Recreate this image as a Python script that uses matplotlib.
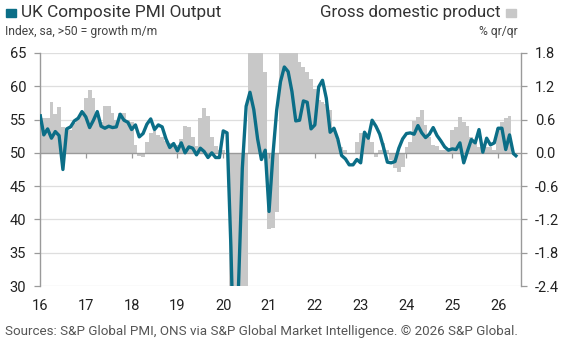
import matplotlib
matplotlib.use('Agg')
import matplotlib.pyplot as plt
import matplotlib.markers as mmarkers
from matplotlib.patches import Rectangle

# ---------------- data ----------------
start_year = 2016
year_labels = ['16', '17', '18', '19', '20', '21', '22', '23', '24', '25', '26']

# UK Composite PMI Output, monthly from Jan 2016
pmi = [
    55.8, 52.7, 53.6, 52.2, 53.2, 52.6, 47.5, 53.6, 53.9, 54.8, 55.2, 56.2,   # 2016
    55.4, 53.8, 54.9, 56.2, 54.0, 53.7, 54.0, 53.8, 53.9, 55.8, 54.9, 54.6,   # 2017
    53.5, 54.2, 52.4, 52.9, 54.3, 55.1, 53.5, 54.2, 53.9, 52.1, 50.8, 51.4,   # 2018
    50.3, 51.5, 50.0, 50.9, 50.7, 49.7, 50.7, 50.2, 49.3, 50.0, 49.3, 49.3,   # 2019
    53.3, 53.0, 36.0, 13.8, 30.0, 47.7, 57.0, 59.1, 56.5, 52.1, 49.0, 50.4,   # 2020
    41.2, 49.6, 56.4, 60.7, 62.9, 62.2, 59.2, 54.8, 54.9, 57.8, 57.6, 53.6,   # 2021
    54.2, 59.9, 60.9, 58.2, 53.1, 53.7, 52.1, 49.6, 49.1, 48.2, 48.2, 49.0,   # 2022
    48.5, 53.1, 52.2, 54.9, 54.0, 52.8, 50.8, 48.6, 48.5, 48.7, 50.7, 52.1,   # 2023
    52.9, 53.0, 52.8, 54.1, 53.0, 52.3, 52.8, 53.8, 52.6, 51.8, 50.9, 50.4,   # 2024
    50.6, 50.5, 51.5, 48.5, 50.3, 52.0, 51.5, 53.5, 50.1, 52.2, 51.2, 51.5,   # 2025
    53.7, 53.7, 50.5, 52.7, 49.9, 49.4,                                       # 2026
]

# Gross domestic product, % 3m/3m (qr/qr), monthly from Jan 2016
gdp = [
    0.70, 0.62, 0.62, 0.92, 0.70, 0.83, 0.47, 0.42, 0.42, 0.53, 0.62, 0.70,   # 2016
    0.98, 1.13, 0.98, 0.68, 0.56, 0.84, 0.84, 0.71, 0.60, 0.71, 0.71, 0.60,   # 2017
    0.55, 0.14, -0.05, -0.07, 0.20, 0.35, 0.40, 0.32, 0.28, 0.22, 0.18, 0.14, # 2018
    0.15, 0.25, 0.48, 0.47, 0.28, 0.12, 0.62, 0.80, 0.66, 0.29, 0.12, 0.05,   # 2019
    0.05, 0.00, -2.6, -10.0, -19.5, -19.8, -8.0, 8.0, 16.0, 15.0, 10.0, 1.45, # 2020
    -1.38, -1.36, -1.06, 3.5, 4.8, 5.5, 3.6, 2.4, 1.63, 1.55, 1.46, 1.33,     # 2021
    1.16, 0.95, 0.92, 0.88, 0.77, 0.44, 0.23, 0.11, 0.05, -0.02, 0.00, 0.20,  # 2022
    0.35, 0.35, 0.29, 0.20, -0.07, 0.05, 0.18, 0.05, -0.13, -0.28, -0.34, -0.25,  # 2023
    0.11, 0.20, 0.58, 0.65, 0.77, 0.50, 0.29, 0.14, 0.12, 0.05, 0.05, 0.08,   # 2024
    0.41, 0.47, 0.64, 0.56, 0.48, 0.29, 0.23, 0.11, 0.05, 0.10, 0.10, 0.05,   # 2025
    0.44, 0.55, 0.62, 0.66,                                                   # 2026
]

pmi_ticks = [30, 35, 40, 45, 50, 55, 60, 65]
gdp_ticks = [-2.4, -1.8, -1.2, -0.6, 0.0, 0.6, 1.2, 1.8]

# ---------------- style ----------------
TEAL = '#0b6e87'
BAR = '#c8c8c8'
GRID = '#dedede'
AXC = '#9a9a9a'
TXT = '#222222'
FONT = ['Roboto', 'DejaVu Sans']
plt.rcParams['font.family'] = FONT

pmi_x = [start_year + i / 12 for i in range(len(pmi))]
gdp_x = [start_year + i / 12 for i in range(len(gdp))]
years = [start_year + i for i in range(len(year_labels))]

fig = plt.figure(figsize=(5.67, 3.42), dpi=100)
fig.patch.set_facecolor('white')
L, R, T, B = 40 / 567, 521 / 567, 53 / 342, 286 / 342
ax = fig.add_axes([L, 1 - B, R - L, B - T])
ax2 = ax.twinx()
ax.set_zorder(3)
ax.patch.set_visible(False)
ax2.set_zorder(1)

# GDP bars (right axis)
ax2.set_ylim(gdp_ticks[0], gdp_ticks[-1])
for v in gdp_ticks:
    if v != 0:
        ax2.axhline(v, color=GRID, lw=0.9, zorder=0)
ax2.bar(gdp_x, gdp, width=1 / 12, color=BAR, linewidth=0, zorder=1)
ax2.axhline(0, color=AXC, lw=1.0, zorder=2)

# PMI line (left axis)
ax.set_ylim(pmi_ticks[0], pmi_ticks[-1])
ax.plot(pmi_x, pmi, color=TEAL, lw=2.4, solid_joinstyle='round', solid_capstyle='butt', zorder=3)
# x tick marks sitting on the 50 line
ax.plot(years, [50] * len(years), ls='none', marker=mmarkers.TICKDOWN, ms=3.5, mew=0.9,
        color=AXC, zorder=2, clip_on=False)

ax.set_xlim(start_year, start_year + 10.5)

for a in (ax, ax2):
    a.spines['top'].set_visible(False)
    a.spines['bottom'].set_visible(False)
ax.spines['right'].set_visible(False)
ax2.spines['left'].set_visible(False)
ax.spines['left'].set_color(AXC)
ax2.spines['right'].set_color(AXC)
ax.spines['left'].set_linewidth(1.0)
ax2.spines['right'].set_linewidth(1.0)

ax.set_yticks(pmi_ticks)
ax.set_yticklabels([str(v) for v in pmi_ticks])
ax2.set_yticks(gdp_ticks)
ax2.set_yticklabels([f'{v:.1f}' for v in gdp_ticks])
ax.tick_params(axis='y', direction='out', length=4, width=0.9, color=AXC,
               labelsize=10.5, labelcolor=TXT, pad=6)
ax2.tick_params(axis='y', direction='out', length=4, width=0.9, color=AXC,
                labelsize=10.5, labelcolor=TXT, pad=6)
ax.set_xticks(years)
ax.set_xticklabels(year_labels)
ax.tick_params(axis='x', length=0, labelsize=10.5, labelcolor=TXT, pad=9)
ax2.tick_params(axis='x', length=0)

# ---------------- titles ----------------
fig.patches.append(Rectangle((6 / 567, 1 - 17 / 342), 10 / 567, 8 / 342,
                             transform=fig.transFigure, color=TEAL))
fig.text(21 / 567, 1 - 12.5 / 342, 'UK Composite PMI Output', fontsize=12.4, color='#333333',
         ha='left', va='center')
fig.text(5 / 567, 1 - 31.5 / 342, 'Index, sa, >50 = growth m/m', fontsize=8.7, color='#444444',
         ha='left', va='center')
fig.patches.append(Rectangle((506 / 567, 1 - 17 / 342), 10 / 567, 8 / 342,
                             transform=fig.transFigure, color=BAR))
fig.text(501 / 567, 1 - 12.5 / 342, 'Gross domestic product', fontsize=12.2, color='#333333',
         ha='right', va='center')
fig.text(518 / 567, 1 - 31.5 / 342, '% qr/qr', fontsize=8.7, color='#444444',
         ha='right', va='center')
fig.text(5 / 567, 1 - 331 / 342,
         'Sources: S&P Global PMI, ONS via S&P Global Market Intelligence. \u00a9 2026 S&P Global.',
         fontsize=9.6, color='#555555', ha='left', va='center')

fig.savefig('out.png', dpi=100, facecolor='white')
